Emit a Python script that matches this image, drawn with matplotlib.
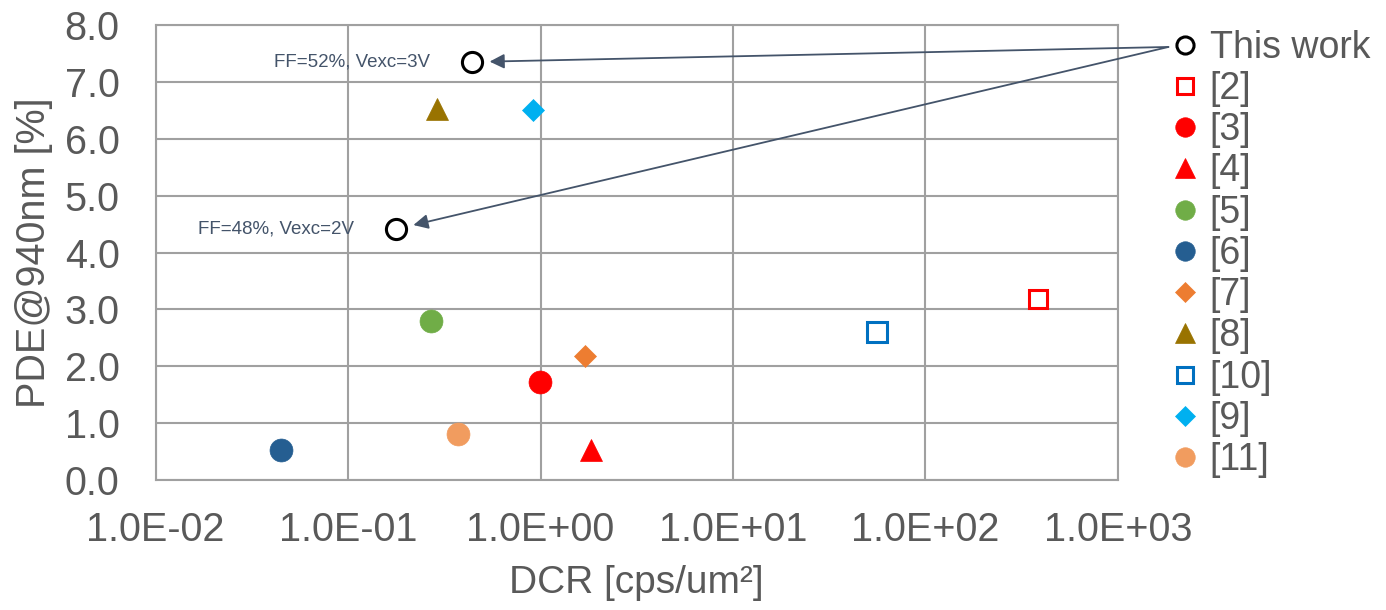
import matplotlib
matplotlib.use("Agg")
import matplotlib.pyplot as plt
from matplotlib.ticker import FixedLocator, NullLocator

plt.rcParams["font.family"] = ["Liberation Sans", "DejaVu Sans"]

# Dark count rate [cps/um^2] and PDE at 940 nm [%] for each reference
labels = ["This work", "[2]", "[3]", "[4]", "[5]", "[6]", "[7]", "[8]", "[10]", "[9]", "[11]"]
dcr = [[0.438, 0.177], [384], [0.99], [1.82], [0.269], [0.0446], [1.70], [0.288], [56.1], [0.908], [0.373]]
pde = [[7.35, 4.41], [3.18], [1.73], [0.53], [2.79], [0.53], [2.18], [6.53], [2.60], [6.50], [0.81]]

markers = ["o", "s", "o", "^", "o", "o", "D", "^", "s", "D", "o"]
colors = ["#000000", "#FF0000", "#FF0000", "#FF0000", "#70AD47", "#255E91",
          "#ED7D31", "#997300", "#0070C0", "#00B0F0", "#F19C5F"]
hollow = [True, True, False, False, False, False, False, False, True, False, False]
sizes = [14.5, 13.5, 16.5, 16.5, 16.5, 16.5, 11.7, 16.5, 14, 11.7, 16.5]

xticks = [1e-2, 1e-1, 1e0, 1e1, 1e2, 1e3]
xticklabels = ["1.0E-02", "1.0E-01", "1.0E+00", "1.0E+01", "1.0E+02", "1.0E+03"]
yticks = [0, 1, 2, 3, 4, 5, 6, 7, 8]
yticklabels = ["0.0", "1.0", "2.0", "3.0", "4.0", "5.0", "6.0", "7.0", "8.0"]

notes = ["FF=52%, Vexc=3V", "FF=48%, Vexc=2V"]

text_gray = "#595959"
grid_gray = "#A0A0A0"
note_color = "#44546A"

fig = plt.figure(figsize=(13.86, 6.10), dpi=100)
ax = fig.add_axes([0.1123, 0.2131, 0.8066 - 0.1123, 0.959 - 0.2131])

handles = []
for lab, xs, ys, m, c, h, s in zip(labels, dcr, pde, markers, colors, hollow, sizes):
    if h:
        ln, = ax.plot(xs, ys, linestyle="none", marker=m, markersize=s,
                      markerfacecolor="white", markeredgecolor=c,
                      markeredgewidth=2.2, label=lab, zorder=4)
    else:
        ln, = ax.plot(xs, ys, linestyle="none", marker=m, markersize=s,
                      markerfacecolor=c, markeredgecolor=c,
                      markeredgewidth=0.5, label=lab, zorder=4)
    handles.append(ln)

ax.set_xscale("log")
ax.set_xlim(1e-2, 1e3)
ax.set_ylim(0, 8)
ax.xaxis.set_major_locator(FixedLocator(xticks))
ax.xaxis.set_minor_locator(NullLocator())
ax.set_xticklabels(xticklabels)
ax.set_yticks(yticks)
ax.set_yticklabels(yticklabels)
ax.tick_params(axis="both", length=0, labelsize=28.5, colors=text_gray)
ax.tick_params(axis="x", pad=22)
ax.tick_params(axis="y", pad=26)

ax.grid(True, color=grid_gray, linewidth=1.5)
ax.set_axisbelow(True)
for sp in ax.spines.values():
    sp.set_color(grid_gray)
    sp.set_linewidth(1.5)

ax.set_xlabel("DCR [cps/um²]", fontsize=28, color=text_gray, labelpad=12)
ax.set_ylabel("PDE@940nm [%]", fontsize=28.5, color=text_gray, labelpad=8)

# Notes beside the two points of this work
for xv, yv, t in zip(dcr[0], pde[0], notes):
    ax.annotate(t, xy=(xv, yv), xytext=(-30, 0), textcoords="offset points",
                ha="right", va="center", fontsize=13.5, color=note_color)

# Arrows from the legend entry to the points of this work
for xv, yv in zip(dcr[0], pde[0]):
    ax.annotate("", xy=(xv, yv), xycoords="data",
                xytext=(0.843, 0.923), textcoords="figure fraction",
                arrowprops=dict(arrowstyle="-|>", color=note_color, lw=1.3,
                                mutation_scale=22, shrinkA=0, shrinkB=13))

leg = fig.legend(handles=handles, loc="upper left", bbox_to_anchor=(0.8335, 0.982),
                 frameon=False, fontsize=27, labelspacing=0.14,
                 handlelength=0.6, handletextpad=0.35, borderpad=0,
                 labelcolor=text_gray, markerscale=0.85)

fig.savefig("out.png", dpi=100)
